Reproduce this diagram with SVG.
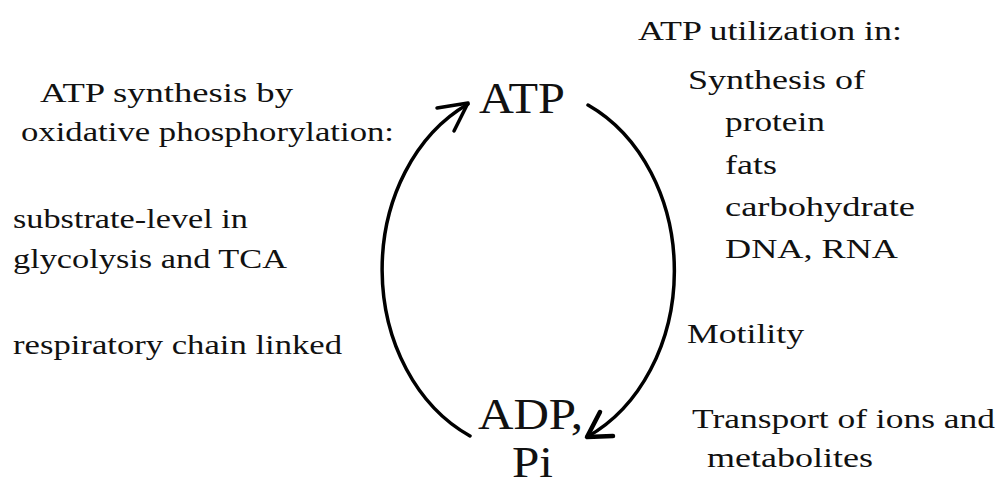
<svg xmlns="http://www.w3.org/2000/svg" width="1000" height="489" viewBox="0 0 1000 489">
<style>
text{font-family:'Liberation Serif','Times New Roman','DejaVu Serif',serif;fill:#111}
.s{font-size:27.5px}
.b{font-size:45px}
.c{fill:none;stroke:#000;stroke-width:3.5;stroke-linecap:round;stroke-linejoin:round}
</style>
<rect width="1000" height="489" fill="#fff"/>
<g id="connectors">
<path class="c" d="M470 436 A150 183 0 0 1 468 104"/>
<path class="c" d="M437 108 L468 103 L454 131"/>
<path class="c" d="M588 105 A150 183 0 0 1 587 437"/>
<path class="c" d="M600 412 L587 437 L613 436" style="stroke-width:4.5"/>
</g>
<g id="atp"><text class="b" x="479" y="113" textLength="86" lengthAdjust="spacingAndGlyphs">ATP</text></g>
<g id="adp">
<text class="b" x="478" y="429" textLength="105" lengthAdjust="spacingAndGlyphs">ADP,</text>
<text class="b" x="512" y="477" textLength="41" lengthAdjust="spacingAndGlyphs">Pi</text>
</g>
<g id="synthesis">
<text class="s" x="40" y="102" textLength="253" lengthAdjust="spacingAndGlyphs">ATP synthesis by</text>
<text class="s" x="21" y="141" textLength="373" lengthAdjust="spacingAndGlyphs">oxidative phosphorylation:</text>
<text class="s" x="13" y="228" textLength="235" lengthAdjust="spacingAndGlyphs">substrate-level in</text>
<text class="s" x="13" y="268" textLength="274" lengthAdjust="spacingAndGlyphs">glycolysis and TCA</text>
<text class="s" x="13" y="354" textLength="329" lengthAdjust="spacingAndGlyphs">respiratory chain linked</text>
</g>
<g id="utilization">
<text class="s" x="638" y="40" textLength="264" lengthAdjust="spacingAndGlyphs">ATP utilization in:</text>
<text class="s" x="688" y="89" textLength="177" lengthAdjust="spacingAndGlyphs">Synthesis of</text>
<text class="s" x="725" y="131" textLength="100" lengthAdjust="spacingAndGlyphs">protein</text>
<text class="s" x="725" y="174" textLength="52" lengthAdjust="spacingAndGlyphs">fats</text>
<text class="s" x="725" y="216" textLength="190" lengthAdjust="spacingAndGlyphs">carbohydrate</text>
<text class="s" x="725" y="258" textLength="173" lengthAdjust="spacingAndGlyphs">DNA, RNA</text>
<text class="s" x="687" y="343" textLength="117" lengthAdjust="spacingAndGlyphs">Motility</text>
<text class="s" x="692" y="428" textLength="303" lengthAdjust="spacingAndGlyphs">Transport of ions and</text>
<text class="s" x="707" y="467" textLength="166" lengthAdjust="spacingAndGlyphs">metabolites</text>
</g>
</svg>
